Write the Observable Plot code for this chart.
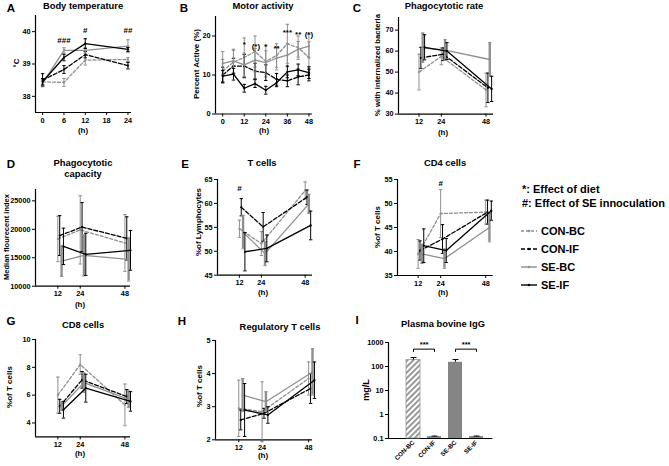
<!DOCTYPE html>
<html><head><meta charset="utf-8">
<script src="https://cdn.jsdelivr.net/npm/d3@7"></script>
<script src="https://cdn.jsdelivr.net/npm/@observablehq/plot@0.6"></script>
<style>
body{margin:0;background:#fff;}
#root{position:relative;width:669px;height:466px;overflow:hidden;font-family:"Liberation Sans",Arial,sans-serif;font-weight:bold;color:#000;}
#root svg{position:absolute;overflow:visible;}
.t{position:absolute;white-space:nowrap;transform:translate(-50%,-50%);line-height:1;}
.rot{transform:translate(-50%,-50%) rotate(-90deg);}
.lft{transform:translate(0,-50%);}
</style></head><body><div id="root"></div>
<script>
// ---------- data ----------
const groups = ["CON-BC", "CON-IF", "SE-BC", "SE-IF"];

// A: body temperature
const tempHours = [0, 6, 12, 24];
const tempMean = [[38.45, 38.43, 39.12, 39.14], [38.5, 38.83, 39.29, 38.95], [38.4, 39.42, 39.42, 39.55], [38.45, 39.2, 39.63, 39.45]];
const tempErr = [[0.08, 0.12, 0.15, 0.06], [0.2, 0.12, 0.1, 0.1], [0.08, 0.08, 0.08, 0.2], [0.1, 0.1, 0.15, 0.06]];
const tempSigLabel = ["###", "#", "##"];
const tempSigHour = [6, 12, 24];
const tempSigLevel = [39.73, 40.03, 40.03];

// B: motor activity
const actHours = [0, 6, 12, 18, 24, 30, 36, 42, 48];
const actMean = [
  [11, 13.3, 14.5, 16, 13.5, 15, 18, 17, 14.5],
  [10, 12.3, 12.3, 11, 10.6, 8.9, 8.5, 9.5, 10],
  [13, 13.6, 12.6, 13.8, 13.2, 14.3, 15.1, 16.6, 17.4],
  [9.7, 10.2, 6.6, 7.8, 6.1, 8.0, 10.8, 11.3, 10.6]];
const actErr = [
  [3, 3, 5, 4, 4, 3, 5, 3, 4],
  [2, 2, 3, 2, 2, 1.5, 1.5, 2, 1.5],
  [3, 3, 3, 3, 3, 3, 3, 2, 3],
  [1.5, 1.5, 1, 1, 1, 1, 1.5, 1.5, 1.5]];
const actSigLabel = ["*", "(*)", "*", "**", "***", "**", "(*)"];
const actSigHour = [12, 18.5, 24, 30, 36, 42, 48];
const actSigLevel = [17.9, 17.4, 17.4, 16.7, 20.8, 20.3, 20.5];

// C: phagocytotic rate
const immHours = [12, 24, 48];
const rateMean = [[50, 57.5, 41.5], [56.8, 58.5, 42.5], [61.6, 60.5, 56], [61.8, 60, 42]];
const rateErr = [[8.5, 4, 8], [5, 3, 7], [7, 5, 8], [6, 4, 6]];

// D: phagocytotic capacity
const capMean = [[18300, 19900, 17600], [18900, 20400, 18400], [14400, 15400, 14700], [17000, 15600, 16300]];
const capErr = [[4000, 6000, 5000], [3500, 4300, 3800], [2700, 3600, 3800], [3200, 3700, 3500]];

// E: T cells
const tcMean = [[54.7, 51.6, 62.7], [59.2, 55.1, 61.3], [54, 49.5, 59.9], [49.9, 50.6, 55.4]];
const tcErr = [[1.8, 2.5, 1.8], [1.8, 3, 1.5], [3.5, 2.5, 2], [4, 2.8, 3]];
const tcSigLabel = ["#"]; const tcSigHour = [12]; const tcSigLevel = [63.1];

// F: CD4 cells
const cd4Mean = [[39.5, 47.9, 48.2], [40.2, 42.6, 48.2], [39.5, 38.5, 45], [41.2, 40.2, 48.5]];
const cd4Err = [[3, 5, 2.5], [2, 3, 2.5], [2, 2, 3], [3.5, 2.5, 2]];
const cd4SigLabel = ["#"]; const cd4SigHour = [24]; const cd4SigLevel = [54.2];

// G: CD8 cells
const cd8Mean = [[6.0, 8.2, 5.3], [5.2, 7.1, 5.9], [5.2, 6.9, 5.7], [4.95, 6.5, 5.55]];
const cd8Err = [[1.3, 0.7, 1.5], [0.5, 0.6, 0.5], [0.3, 0.7, 0.6], [0.6, 1.0, 0.7]];

// H: regulatory T cells
const tregMean = [[2.95, 2.85, 3.85], [2.6, 2.8, 3.55], [3.35, 3.15, 4.05], [2.9, 2.75, 3.8]];
const tregErr = [[0.85, 0.9, 0.5], [0.3, 0.15, 0.45], [0.5, 0.3, 0.7], [0.8, 0.25, 0.55]];

// I: plasma bovine IgG
const iggMean = [185, 0.12, 150, 0.12];
const iggErr = [50, 0.006, 45, 0.006];
const iggPairs = [["CON-BC", "CON-IF"], ["SE-BC", "SE-IF"]];
const iggSigLabel = "***";

// ---------- styles ----------
const gStyle = {
  "CON-BC": {color: "#8f8f8f", dash: "3,2", err: 1},
  "CON-IF": {color: "#000", dash: "4,2", err: 1},
  "SE-BC": {color: "#8f8f8f", dash: null, err: 2.4},
  "SE-IF": {color: "#000", dash: null, err: 1}
};
const svgStyle = {fontFamily: '"Liberation Sans", Arial, sans-serif', fontSize: "7.3px", fontWeight: "bold", background: "transparent", overflow: "visible"};
const capSymbol = {draw(ctx, size) { const r = Math.sqrt(size / Math.PI); ctx.moveTo(-r, 0); ctx.lineTo(r, 0); }};
const root = document.getElementById("root");

function addText(txt, x, y, size, cls) {
  const d = document.createElement("div");
  d.className = "t" + (cls ? " " + cls : "");
  d.textContent = txt;
  d.style.left = x + "px"; d.style.top = y + "px"; d.style.fontSize = size + "px";
  root.appendChild(d);
}

function sigRows(labels, hours, levels) {
  return labels.map((l, i) => ({label: l, x: hours[i], y: levels[i]}));
}

function linePanel(p) {
  const ml = 40, mr = 14, mt = 14, mb = 22;
  const dodge = p.dodge || 0;
  const rows = [];
  groups.forEach((g, i) => p.hours.forEach((t, j) => rows.push({g, x: t + dodge * i, y: p.mean[i][j], e: p.err[i][j]})));
  const marks = [
    Plot.ruleX([p.x[0]], {strokeWidth: 1.2}),
    Plot.ruleY([p.y[0]], {strokeWidth: 1.2}),
    Plot.axisX({ticks: p.xTicks, tickSize: 3, tickPadding: 2, label: null, tickFormat: d => String(d)}),
    Plot.axisY({ticks: p.yTicks, tickSize: 3, tickPadding: 2, label: null, tickFormat: d => String(d)})
  ];
  groups.forEach(g => {
    const s = gStyle[g];
    const data = rows.filter(r => r.g === g);
    const ew = dodge ? s.err : 1;
    marks.push(Plot.ruleX(data, {x: "x", y1: d => d.y - d.e, y2: d => d.y + d.e, stroke: s.color, strokeWidth: ew}));
    marks.push(Plot.dot(data, {x: "x", y: d => d.y - d.e, symbol: capSymbol, r: 1.7, stroke: s.color, fill: "none", strokeWidth: 1}));
    marks.push(Plot.dot(data, {x: "x", y: d => d.y + d.e, symbol: capSymbol, r: 1.7, stroke: s.color, fill: "none", strokeWidth: 1}));
    marks.push(Plot.line(data, {x: "x", y: "y", stroke: s.color, strokeWidth: 1.3, strokeDasharray: s.dash}));
    marks.push(Plot.dot(data, {x: "x", y: "y", r: 1.1, fill: s.color, stroke: "none"}));
  });
  if (p.sig) marks.push(Plot.text(p.sig, {x: "x", y: "y", text: "label", fontSize: 8, fontWeight: "bold"}));
  const svg = Plot.plot({
    width: p.w + ml + mr, height: p.h + mt + mb,
    marginLeft: ml, marginRight: mr, marginTop: mt, marginBottom: mb,
    x: {domain: p.x}, y: {domain: p.y},
    style: svgStyle, marks
  });
  svg.style.left = (p.L - ml) + "px"; svg.style.top = (p.T - mt) + "px";
  root.appendChild(svg);
}

// ---------- panels ----------
linePanel({L: 35, T: 15, w: 96, h: 97, x: [-2, 25], y: [37.5, 40.5], xTicks: [0, 6, 12, 18, 24], yTicks: [38, 39, 40],
  hours: tempHours, mean: tempMean, err: tempErr, sig: sigRows(tempSigLabel, tempSigHour, tempSigLevel)});
linePanel({L: 215, T: 15.5, w: 97, h: 97.5, x: [-4, 50], y: [0, 25], xTicks: [0, 12, 24, 36, 48], yTicks: [0, 10, 20],
  hours: actHours, mean: actMean, err: actErr, sig: sigRows(actSigLabel, actSigHour, actSigLevel)});
linePanel({L: 398, T: 16.7, w: 95, h: 96.6, x: [1, 52], y: [30, 76], xTicks: [12, 24, 48], yTicks: [30, 40, 50, 60, 70],
  hours: immHours, mean: rateMean, err: rateErr, dodge: 1});
linePanel({L: 35, T: 189, w: 95, h: 96.7, x: [0, 51], y: [10000, 27000], xTicks: [12, 24, 48], yTicks: [10000, 15000, 20000, 25000],
  hours: immHours, mean: capMean, err: capErr, dodge: 1});
linePanel({L: 217, T: 179.3, w: 95, h: 95.7, x: [0, 52], y: [45, 65], xTicks: [12, 24, 48], yTicks: [45, 50, 55, 60, 65],
  hours: immHours, mean: tcMean, err: tcErr, dodge: 1, sig: sigRows(tcSigLabel, tcSigHour, tcSigLevel)});
linePanel({L: 397.3, T: 179, w: 95.7, h: 96, x: [1, 52], y: [35, 55], xTicks: [12, 24, 48], yTicks: [35, 40, 45, 50, 55],
  hours: immHours, mean: cd4Mean, err: cd4Err, dodge: 1, sig: sigRows(cd4SigLabel, cd4SigHour, cd4SigLevel)});
linePanel({L: 35, T: 339.3, w: 95, h: 97.4, x: [0, 51], y: [3, 10], xTicks: [12, 24, 48], yTicks: [4, 6, 8, 10],
  hours: immHours, mean: cd8Mean, err: cd8Err, dodge: 1});
linePanel({L: 215, T: 340, w: 97, h: 99.3, x: [0, 50], y: [2, 5], xTicks: [12, 24, 48], yTicks: [2, 3, 4, 5],
  hours: immHours, mean: tregMean, err: tregErr, dodge: 1});

// Panel I: bar chart, log scale
(function () {
  const ml = 40, mr = 14, mt = 14, mb = 40;
  const L = 388.3, T = 341.7, w = 104.4, h = 96;
  const rows = groups.map((g, i) => ({g, v: iggMean[i], e: iggErr[i]}));
  const level = d3.max(rows, d => d.v + d.e) * 2.25;
  const bracket = [];
  iggPairs.forEach((pr, k) => {
    bracket.push({k, g: pr[0], v: level * 0.8}, {k, g: pr[0], v: level}, {k, g: pr[1], v: level}, {k, g: pr[1], v: level * 0.8});
  });
  const step = (487.7 - 402.3) / groups.length;
  const marks = [
    Plot.frame({anchor: "left", strokeWidth: 1.2}),
    Plot.ruleY([0.1], {strokeWidth: 1.2}),
    Plot.axisY({ticks: [0.1, 1, 10, 100, 1000], tickSize: 3, tickPadding: 2, label: null, tickFormat: d => String(d)}),
    Plot.axisX({tickSize: 0, tickPadding: 3, tickRotate: -45, label: null, fontSize: 6.3}),
    Plot.barY(rows.filter(d => d.g === "CON-BC"), {x: "g", y1: () => 0.1, y2: "v", fill: "url(#hatchI)", stroke: "#999", strokeWidth: 0.8}),
    Plot.barY(rows.filter(d => d.g === "SE-BC"), {x: "g", y1: () => 0.1, y2: "v", fill: "#858585"}),
    Plot.barY(rows.filter(d => d.g.endsWith("IF")), {x: "g", y1: () => 0.1, y2: "v", fill: "#858585"}),
    Plot.ruleX(rows, {x: "g", y1: "v", y2: d => d.v + d.e, stroke: "#000", strokeWidth: 1}),
    Plot.dot(rows, {x: "g", y: d => d.v + d.e, symbol: capSymbol, r: 3, stroke: "#000", fill: "none", strokeWidth: 1}),
    Plot.line(bracket, {x: "g", y: "v", z: "k", stroke: "#000", strokeWidth: 1}),
    Plot.text(iggPairs, {x: d => d[0], y: () => level * 1.6, text: () => iggSigLabel, dx: step / 2, fontSize: 7.5, fontWeight: "bold"})
  ];
  const svg = Plot.plot({
    width: w + ml + mr, height: h + mt + mb,
    marginLeft: ml, marginRight: mr, marginTop: mt, marginBottom: mb,
    x: {type: "band", domain: groups, range: [ml + (402.3 - L), ml + (487.7 - L)], paddingInner: 0.35, paddingOuter: 0.175},
    y: {type: "log", domain: [0.1, 1000]},
    style: svgStyle, marks
  });
  const defs = d3.select(svg).insert("defs", ":first-child");
  const pat = defs.append("pattern").attr("id", "hatchI").attr("patternUnits", "userSpaceOnUse")
    .attr("width", 4).attr("height", 4).attr("patternTransform", "rotate(45)");
  pat.append("rect").attr("width", 4).attr("height", 4).attr("fill", "#fff");
  pat.append("rect").attr("width", 2).attr("height", 4).attr("fill", "#999");
  svg.style.left = (L - ml) + "px"; svg.style.top = (T - mt) + "px";
  root.appendChild(svg);
})();

// ---------- text ----------
const letter = 11.5, title = 9.4, axl = 8;
addText("A", 11, 9, letter); addText("Body temperature", 83, 6, title);
addText("°C", 17, 63, axl, "rot"); addText("(h)", 83, 131, axl);
addText("B", 184, 9, letter); addText("Motor activity", 263, 6, title);
addText("Percent Active (%)", 197, 64, axl, "rot"); addText("(h)", 264, 131, axl);
addText("C", 357, 9, letter); addText("Phagocytotic rate", 444, 6, title);
addText("% with internalized bacteria", 378, 65, 7.8, "rot"); addText("(h)", 443, 133, axl);

addText("D", 11, 165, letter); addText("Phagocytotic", 83, 163, title); addText("capacity", 83, 174, title);
addText("Median flourecent index", 7, 237, 7.5, "rot"); addText("(h)", 80, 305, axl);
addText("E", 185, 165, letter); addText("T cells", 262, 163, title);
addText("%of Lymphocytes", 199, 222, axl, "rot"); addText("(h)", 263, 293, axl);
addText("F", 357, 165, letter); addText("CD4 cells", 445, 163, title);
addText("%of T cells", 378, 227, axl, "rot"); addText("(h)", 443, 293, axl);

addText("G", 11, 322, letter); addText("CD8 cells", 83, 325, title);
addText("%of T cells", 10, 387, axl, "rot"); addText("(h)", 80, 454, axl);
addText("H", 182, 322, letter); addText("Regulatory T cells", 280, 327, title);
addText("%of T cells", 200, 386, axl, "rot"); addText("(h)", 263, 456, axl);
addText("I", 357, 321, letter); addText("Plasma bovine IgG", 443, 324, title);
addText("mg/L", 366, 390, axl + 1, "rot");

// legend
addText("*: Effect of diet", 522, 189, 11, "lft");
addText("#: Effect of SE innoculation", 522, 203, 11, "lft");
const legY = [231, 249, 267, 285];
groups.forEach((g, i) => {
  const s = gStyle[g];
  const ns = "http://www.w3.org/2000/svg";
  const sv = document.createElementNS(ns, "svg");
  sv.setAttribute("width", 18); sv.setAttribute("height", 6);
  sv.style.left = "520px"; sv.style.top = (legY[i] - 3) + "px";
  const ln = document.createElementNS(ns, "line");
  ln.setAttribute("x1", 1); ln.setAttribute("x2", 17); ln.setAttribute("y1", 3); ln.setAttribute("y2", 3);
  ln.setAttribute("stroke", s.color); ln.setAttribute("stroke-width", 1.4);
  if (s.dash) ln.setAttribute("stroke-dasharray", s.dash);
  sv.appendChild(ln);
  const c = document.createElementNS(ns, "circle");
  c.setAttribute("cx", 9); c.setAttribute("cy", 3); c.setAttribute("r", 1.3); c.setAttribute("fill", s.color);
  sv.appendChild(c);
  root.appendChild(sv);
  addText(g, 541, legY[i], 11, "lft");
});
</script></body></html>
